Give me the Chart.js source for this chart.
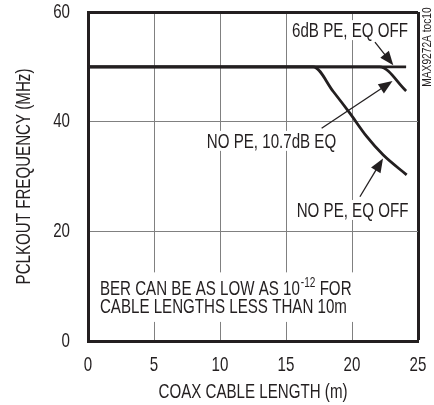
<!DOCTYPE html>
<html><head><meta charset="utf-8">
<script src="https://cdn.jsdelivr.net/npm/chart.js@4.4.1/dist/chart.umd.min.js"></script>
<style>html,body{margin:0;padding:0;background:#fff}#wrap{width:434px;height:405px}</style>
</head><body><div id="wrap"><canvas id="c" width="434" height="405"></canvas></div>
<script>
// ---- data ----
const xTickValues = [0, 5, 10, 15, 20, 25];
const yTickValues = [0, 20, 40, 60];
const x6dBPE = [0, 24.1];
const y6dBPE = [50, 50];
const xNoPE107 = [0, 22.1, 24.1];
const yNoPE107 = [50, 50, 45.6];
const xNoPEOff = [0, 17.07, 18.58, 19.85, 21.11, 22.37, 24.14];
const yNoPEOff = [50, 50, 45.5, 41.5, 37.3, 33.9, 30.3];
const xTitle = 'COAX CABLE LENGTH (m)';
const yTitle = 'PCLKOUT FREQUENCY (MHz)';
const noteTexts = ['6dB PE, EQ OFF', 'NO PE, 10.7dB EQ', 'NO PE, EQ OFF'];
const berLine1 = ['BER CAN BE AS LOW AS 10', '-12', ' FOR'];
const berLine2 = 'CABLE LENGTHS LESS THAN 10m';
const sideNote = 'MAX9272A toc10';

// ---- style / placement ----
const INK = '#231f20';
const GRIDC = '#808080';
const SX = 0.72;
const FONT = '"Liberation Sans", Arial, sans-serif';
const notePos = [ // label centre, arrow tail, arrow head (data units)
  {c:[19.85,56.7], t:[21.74,54.5], h:[23.13,50.3]},
  {c:[13.9,36.5],  t:[17.7,38.8],  h:[23.07,47.4]},
  {c:[20.04,23.9], t:[20.6,26.3],  h:[22.35,33.3]}
];

const pts = (xs, ys) => xs.map((x, i) => ({x, y: ys[i]}));

const condense = {
  id: 'condense',
  beforeDraw(chart) {
    const ctx = chart.ctx;
    if (ctx._condensed) return;
    const orig = ctx.fillText.bind(ctx);
    ctx.fillText = function (t, x, y) {
      this.save(); this.translate(x, y); this.scale(SX, 1); orig(t, 0, 0); this.restore();
    };
    ctx._condensed = true;
  }
};

function tw(ctx, s) { return ctx.measureText(s).width * SX; }
function noPad(s) { s.paddingTop = 0; s.paddingBottom = 0; s.paddingLeft = 0; s.paddingRight = 0; }

const notesPlugin = {
  id: 'notes',
  beforeDatasetsDraw(chart) {
    const {ctx, scales: {x, y}} = chart;
    ctx.save();
    ctx.fillStyle = '#fff';
    ctx.font = '21px ' + FONT;
    notePos.forEach((p, i) => {
      const w = tw(ctx, noteTexts[i]);
      const cx = x.getPixelForValue(p.c[0]), cy = y.getPixelForValue(p.c[1]);
      ctx.fillRect(cx - w / 2 - 3, cy - 10, w + 6, 20);
    });
    // BER box
    const bx = x.getPixelForValue(0.9);
    const by1 = y.getPixelForValue(9.6), by2 = y.getPixelForValue(6.4);
    let w1 = tw(ctx, berLine1[0]) + tw(ctx, berLine1[2]);
    ctx.font = '14px ' + FONT; w1 += tw(ctx, berLine1[1]);
    ctx.font = '21px ' + FONT;
    const w2 = tw(ctx, berLine2);
    ctx.fillRect(bx - 4, by1 - 16, Math.max(w1, w2) + 8, by2 - by1 + 32);
    ctx.restore();
  },
  afterDatasetsDraw(chart) {
    const {ctx, scales: {x, y}} = chart;
    ctx.save();
    ctx.fillStyle = INK; ctx.strokeStyle = INK;
    ctx.font = '21px ' + FONT;
    ctx.textBaseline = 'middle';
    ctx.textAlign = 'center';
    notePos.forEach((p, i) => {
      ctx.fillText(noteTexts[i], x.getPixelForValue(p.c[0]), y.getPixelForValue(p.c[1]) + 1);
      const tx = x.getPixelForValue(p.t[0]), ty = y.getPixelForValue(p.t[1]);
      const hx = x.getPixelForValue(p.h[0]), hy = y.getPixelForValue(p.h[1]);
      const ang = Math.atan2(hy - ty, hx - tx);
      const L = 14, W = 5.5;
      const bxp = hx - L * Math.cos(ang), byp = hy - L * Math.sin(ang);
      ctx.lineWidth = 1.3;
      ctx.beginPath(); ctx.moveTo(tx, ty); ctx.lineTo(bxp + 2 * Math.cos(ang), byp + 2 * Math.sin(ang)); ctx.stroke();
      ctx.beginPath();
      ctx.moveTo(hx, hy);
      ctx.lineTo(bxp + W * Math.sin(ang), byp - W * Math.cos(ang));
      ctx.lineTo(bxp - W * Math.sin(ang), byp + W * Math.cos(ang));
      ctx.closePath(); ctx.fill();
    });
    // BER text
    ctx.textAlign = 'left';
    let bx = x.getPixelForValue(0.9);
    const by1 = y.getPixelForValue(9.6), by2 = y.getPixelForValue(6.4);
    ctx.fillText(berLine1[0], bx, by1 + 1);
    bx += tw(ctx, berLine1[0]);
    ctx.font = '14px ' + FONT;
    ctx.fillText(berLine1[1], bx + 1, by1 - 5);
    bx += tw(ctx, berLine1[1]) + 1;
    ctx.font = '21px ' + FONT;
    ctx.fillText(berLine1[2], bx, by1 + 1);
    ctx.fillText(berLine2, x.getPixelForValue(0.9), by2 + 1);
    // side note
    ctx.font = '12px ' + FONT;
    ctx.save();
    ctx.translate(428, 47);
    ctx.rotate(-Math.PI / 2);
    ctx.textAlign = 'center';
    ctx.scale(0.85 / SX, 1);
    ctx.fillText(sideNote, 0, 0);
    ctx.restore();
    ctx.restore();
  }
};

const lineStyle = {borderColor: INK, borderWidth: 2.8, pointRadius: 0, fill: false, cubicInterpolationMode: 'monotone'};

new Chart(document.getElementById('c'), {
  type: 'line',
  data: {
    datasets: [
      Object.assign({label: noteTexts[0], data: pts(x6dBPE, y6dBPE)}, lineStyle),
      Object.assign({label: noteTexts[1], data: pts(xNoPE107, yNoPE107)}, lineStyle),
      Object.assign({label: noteTexts[2], data: pts(xNoPEOff, yNoPEOff)}, lineStyle)
    ]
  },
  options: {
    responsive: false,
    animation: false,
    events: [],
    layout: {autoPadding: false, padding: {left: 0, top: 12, right: 16, bottom: 0}},
    plugins: {legend: {display: false}, tooltip: {enabled: false}},
    scales: {
      x: {
        type: 'linear', min: 0, max: 25,
        afterBuildTicks: s => { s.ticks = xTickValues.map(v => ({value: v})); },
        afterFit: s => { s.height = 64; noPad(s); },
        ticks: {color: INK, font: {size: 21, family: FONT}, padding: 12, maxRotation: 0},
        grid: {drawTicks: false,
          color: c => c.tick && c.tick.value === 25 ? INK : GRIDC,
          lineWidth: c => c.tick && c.tick.value === 25 ? 3 : 1},
        border: {display: true, color: INK, width: 3},
        title: {display: true, text: xTitle, color: INK, font: {size: 21, family: FONT}, padding: {top: 0, bottom: 0}}
      },
      y: {
        min: 0, max: 60,
        afterBuildTicks: s => { s.ticks = yTickValues.map(v => ({value: v})); },
        afterFit: s => { s.width = 88; noPad(s); },
        ticks: {color: INK, font: {size: 21, family: FONT}, padding: 18},
        grid: {drawTicks: false,
          color: c => c.tick && c.tick.value === 60 ? INK : GRIDC,
          lineWidth: c => c.tick && c.tick.value === 60 ? 3 : 1},
        border: {display: true, color: INK, width: 3},
        title: {display: true, text: yTitle, color: INK, font: {size: 21, family: FONT}, padding: {top: 12, bottom: 0}}
      }
    }
  },
  plugins: [condense, notesPlugin]
});
</script>
</body></html>
